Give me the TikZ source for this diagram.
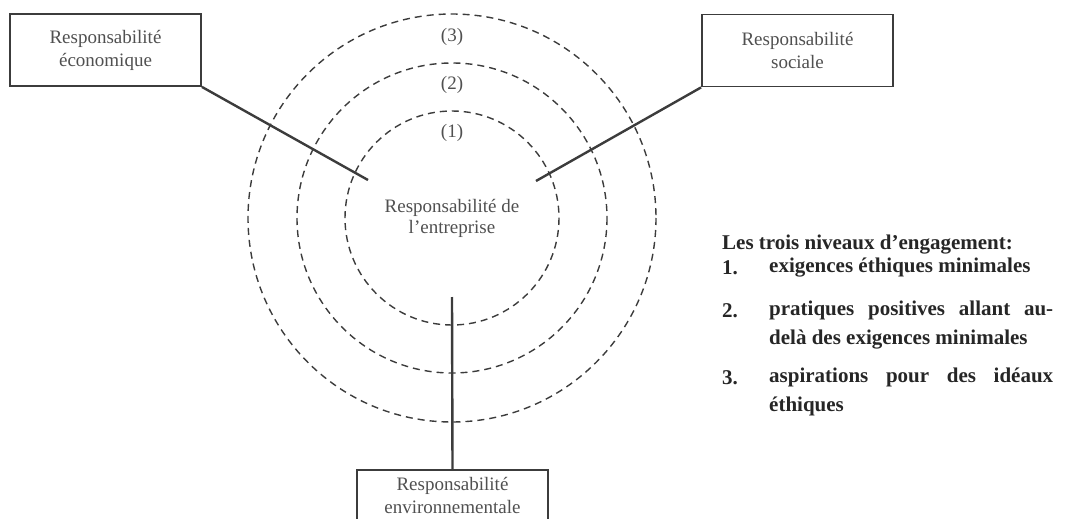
\documentclass[tikz,border=0pt]{standalone}
\usepackage{fontspec}
\setmainfont{Liberation Serif}
\newfontfamily\legendfont{Liberation Serif}
\definecolor{inkgray}{HTML}{3C3C3C}
\definecolor{txtgray}{HTML}{505050}
\tikzset{
  respbox/.style={draw=inkgray, line width=1.8pt, minimum width=191pt, minimum height=72pt,
    align=center, text=txtgray, inner sep=0pt, font=\fontsize{19}{23}\selectfont},
  ring/.style={draw=inkgray, dash pattern=on 7pt off 5pt, line width=1.4pt},
  spoke/.style={draw=inkgray, line width=2.4pt},
  numlabel/.style={text=txtgray, font=\fontsize{19}{20}\selectfont},
  legendtxt/.style={anchor=west, align=left, inner sep=0pt, text=black!85,
    font=\legendfont\bfseries\fontsize{21}{29}\selectfont}
}
\begin{document}
\begin{tikzpicture}[x=1pt,y=-1pt]
  \useasboundingbox (0,0) rectangle (1069,519);
  \coordinate (C) at (452,218);
  % the three levels
  \foreach \r/\n/\y in {107/1/133, 155/2/85, 204/3/37}{
    \draw[ring] (C) circle[radius=\r];
    \node[numlabel] (L\n) at (452,\y) {(\n)};
  }
  \node[numlabel, align=center, font=\fontsize{19}{21}\selectfont] (firm) at (452,218) {Responsabilité de\\l’entreprise};
  % the three responsibilities
  \node[respbox] (eco) at (105.5,50) {Responsabilité\\économique};
  \node[respbox] (soc) at (797.5,50.5) {Responsabilité\\sociale};
  \node[respbox, anchor=north, minimum height=52pt] (env) at (452.5,469) {Responsabilité\\environnementale};
  \coordinate (ecoend) at (368,180);
  \coordinate (socend) at (536,181);
  \coordinate (envend) at (452,297);
  \draw[spoke] (eco.south east) -- (ecoend);
  \draw[spoke] (soc.south west) -- (socend);
  \draw[spoke] (env.north) -- (envend);
  % legend
  \node[legendtxt] (title) at (722,245) {Les trois niveaux d’engagement:};
  \foreach \n/\y in {1/268, 2/311, 3/378}{
    \node[legendtxt] (num\n) at (722,\y) {\n.};
  }
  \node[legendtxt] (item1) at (769,268) {exigences éthiques minimales};
  \node[legendtxt] (item2) at (769,325.5) {\makebox[284pt][s]{pratiques positives allant au-}\\delà des exigences minimales};
  \node[legendtxt] (item3) at (769,392) {\makebox[284pt][s]{aspirations pour des idéaux}\\éthiques};
\end{tikzpicture}
\end{document}
